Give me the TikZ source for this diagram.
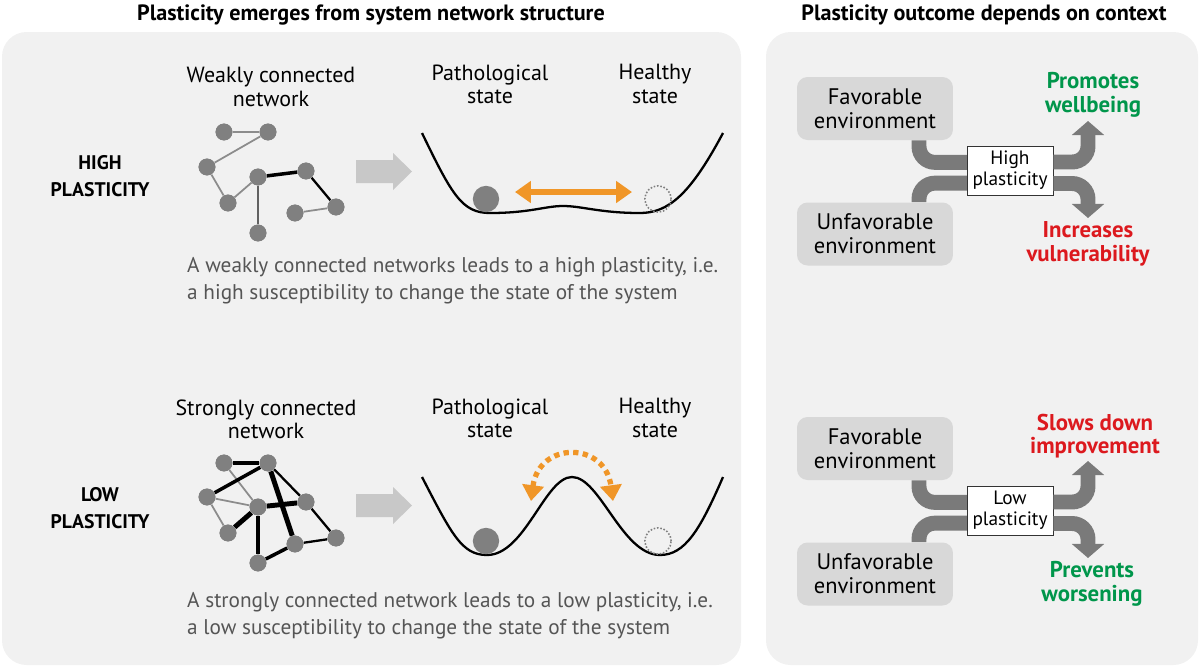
\documentclass[tikz,border=0pt]{standalone}
\usepackage{fontspec}
\setmainfont{PT Sans}
\usepackage{xcolor}
\usetikzlibrary{arrows.meta,calc}

\definecolor{panelgray}{RGB}{241,241,241}
\definecolor{boxgray}{RGB}{216,216,216}
\definecolor{nodegray}{RGB}{128,128,128}
\definecolor{edgegray}{RGB}{140,140,140}
\definecolor{bandgray}{RGB}{122,122,122}
\definecolor{lightarrow}{RGB}{200,200,200}
\definecolor{capgray}{RGB}{85,85,85}
\definecolor{wellorange}{RGB}{240,150,40}
\definecolor{goodgreen}{RGB}{0,150,75}
\definecolor{badred}{RGB}{220,25,30}

\tikzset{
  panel/.style={fill=panelgray,rounded corners=14pt},
  netnode/.style={circle,fill=nodegray,minimum size=9.6pt,inner sep=0pt},
  weak/.style={edgegray,line width=1pt},
  strong/.style={black,line width=1.3pt},
  stronger/.style={black,line width=2pt},
  strongest/.style={black,line width=2.8pt},
  label/.style={align=center,font=\fontsize{12.5}{13.2}\selectfont},
  caption/.style={align=left,anchor=west,text=capgray,font=\fontsize{12.1}{15.3}\selectfont},
  rowtitle/.style={align=center,font=\bfseries\fontsize{11.2}{15.3}\selectfont},
  headline/.style={font=\bfseries\fontsize{12.6}{14}\selectfont},
  envbox/.style={fill=boxgray,rounded corners=6pt,minimum width=3.12cm,minimum height=1.26cm,inner sep=1pt,align=center,font=\fontsize{12.8}{13.5}\selectfont},
  plastbox/.style={draw=black!80,fill=white,minimum width=1.72cm,minimum height=0.98cm,inner sep=1pt,align=center,font=\fontsize{11}{12}\selectfont},
  band/.style={bandgray,line width=8.5pt,rounded corners=9pt},
  bandtip/.style={-{Triangle[length=8pt,width=18pt]}},
  outcome/.style={align=center,font=\bfseries\fontsize{13}{13.5}\selectfont},
}

\begin{document}
\begin{tikzpicture}[x=0.02cm,y=-0.02cm]
    \useasboundingbox (0,0) rectangle (1200,667);
    \clip (0,0) rectangle (1200,667);

    % panels
    \fill[panel] (2,32) rectangle (741,665);
    \fill[panel] (766,32) rectangle (1198,665);

    \node[headline] (ltitle) at (371,15) {Plasticity emerges from system network structure};
    \node[headline] (rtitle) at (984,15) {Plasticity outcome depends on context};

    %%% high plasticity row
    \node[rowtitle] (high) at (100,176) {HIGH\\PLASTICITY};
    \node[label] (weaklab) at (271,87) {Weakly connected\\network};
    \node[label] (path1) at (490,84) {Pathological\\state};
    \node[label] (heal1) at (655,84) {Healthy\\state};

    % weak network
    \foreach \n/\x/\y in {n1/224/132, n2/268/132, n3/207/167, n4/258/177, n5/306/171,
                          n6/228/203, n7/336/207, n8/295/213, n9/258/233}
        \node[netnode] (\n) at (\x,\y) {};
    \draw[weak] (n1) -- (n2);
    \draw[weak] (n2) -- (n3);
    \draw[weak] (n3) -- (n6);
    \draw[weak] (n6) -- (n4);
    \draw[weak,edgegray!70!black] (n4) -- (n9);
    \draw[stronger] (n4) -- (n5);
    \draw[strong] (n5) -- (n7);
    \draw[weak] (n7) -- (n8);
    \foreach \n in {n1,n2,n3,n4,n5,n6,n7,n8,n9}
        \node[netnode] at (\n) {};

    \fill[lightarrow] (356,160) -- (393,160) -- (393,153) -- (412,171.5)
        -- (393,190) -- (393,183) -- (356,183) -- cycle;

    % flat well
    \draw[line width=1.3pt] (422,133) .. controls (452,195) and (462,213) .. (490,213)
        .. controls (530,213) and (545,206) .. (563,206)
        .. controls (582,206) and (600,213) .. (640,213)
        .. controls (668,213) and (690,195) .. (723,133);
    \node[circle,fill=nodegray,minimum size=15pt,inner sep=0pt] (ball1) at (486,199) {};
    \node[circle,draw=nodegray,densely dotted,line width=0.9pt,minimum size=15pt,inner sep=0pt] (goal1) at (658,199) {};
    \draw[wellorange,line width=3pt,{Triangle[length=9pt,width=12pt]}-{Triangle[length=9pt,width=12pt]}]
        ($(ball1)+(29,-7)$) -- ($(goal1)+(-26,-7)$);

    \node[caption] (cap1) at (181,281) {A weakly connected networks leads to a high plasticity, i.e.\\a high susceptibility to change the state of the system};

    %%% low plasticity row
    \node[rowtitle] (low) at (100,508) {LOW\\PLASTICITY};
    \node[label] (stronglab) at (266,419) {Strongly connected\\network};
    \node[label] (path2) at (490,418) {Pathological\\state};
    \node[label] (heal2) at (655,418) {Healthy\\state};

    % strong network
    \foreach \n/\x/\y in {m1/224/463, m2/268/463, m3/207/497, m4/258/507, m5/306/502,
                          m6/228/533, m7/336/538, m8/295/544, m9/258/563}
        \node[netnode] (\n) at (\x,\y) {};
    \draw[stronger] (m1) -- (m2);
    \draw[weak] (m1) -- (m4);
    \draw[stronger] (m2) -- (m3);
    \draw[strongest] (m2) -- (m8);
    \draw[strong] (m2) -- (m5);
    \draw[weak] (m3) -- (m4);
    \draw[weak] (m3) -- (m6);
    \draw[strongest] (m4) -- (m6);
    \draw[strongest] (m4) -- (m5);
    \draw[stronger] (m4) -- (m9);
    \draw[strong] (m5) -- (m7);
    \draw[strong] (m7) -- (m8);
    \draw[stronger] (m8) -- (m9);
    \foreach \n in {m1,m2,m3,m4,m5,m6,m7,m8,m9}
        \node[netnode] at (\n) {};

    \fill[lightarrow] (356,494) -- (393,494) -- (393,487) -- (412,505.5)
        -- (393,524) -- (393,517) -- (356,517) -- cycle;

    % double well
    \draw[line width=1.3pt] (422,477) .. controls (452,535) and (462,555) .. (487,555)
        .. controls (525,555) and (545,477) .. (572,477)
        .. controls (600,477) and (622,555) .. (660,555)
        .. controls (685,555) and (700,530) .. (723,477);
    \node[circle,fill=nodegray,minimum size=15pt,inner sep=0pt] (ball2) at (486,541) {};
    \node[circle,draw=nodegray,densely dotted,line width=0.9pt,minimum size=15pt,inner sep=0pt] (goal2) at (658,541) {};
    \draw[wellorange,line width=3pt,dash pattern=on 3pt off 2.5pt,{Triangle[length=9pt,width=12pt]}-{Triangle[length=9pt,width=12pt]}]
        (531,501) .. controls (539,441) and (605,441) .. (613,501);

    \node[caption] (cap2) at (181,616) {A strongly connected network leads to a low plasticity, i.e.\\a low susceptibility to change the state of the system};

    %%% right panel, high plasticity
    \node[envbox] (fav1) at (875,108.5) {Favorable\\environment};
    \node[envbox] (unf1) at (875,234) {Unfavorable\\environment};
    \draw[band] ($(fav1.south)+(44,0)$) |- ($(fav1.south)+(100,22)$);
    \draw[band] ($(unf1.north)+(44,0)$) |- ($(unf1.north)+(100,-19)$);
    \node[plastbox] (hp) at (1010,170.5) {High\\plasticity};
    \coordinate (up1) at (1088,121);
    \coordinate (dn1) at (1088,218);
    \draw[band,bandtip] ($(hp.east)+(0,-8.5)$) -| (up1);
    \draw[band,bandtip] ($(hp.east)+(0,13)$) -| (dn1);
    \node[outcome,text=goodgreen] (good1) at (1093,95) {Promotes\\wellbeing};
    \node[outcome,text=badred] (bad1) at (1088,244) {Increases\\vulnerability};

    %%% right panel, low plasticity
    \node[envbox] (fav2) at (875,448.5) {Favorable\\environment};
    \node[envbox] (unf2) at (875,574) {Unfavorable\\environment};
    \draw[band] ($(fav2.south)+(44,0)$) |- ($(fav2.south)+(100,22)$);
    \draw[band] ($(unf2.north)+(44,0)$) |- ($(unf2.north)+(100,-19)$);
    \node[plastbox] (lp) at (1010,510.5) {Low\\plasticity};
    \coordinate (up2) at (1088,461);
    \coordinate (dn2) at (1088,558);
    \draw[band,bandtip] ($(lp.east)+(0,-8.5)$) -| (up2);
    \draw[band,bandtip] ($(lp.east)+(0,13)$) -| (dn2);
    \node[outcome,text=badred] (bad2) at (1095,436) {Slows down\\improvement};
    \node[outcome,text=goodgreen] (good2) at (1092,584) {Prevents\\worsening};
\end{tikzpicture}
\end{document}
